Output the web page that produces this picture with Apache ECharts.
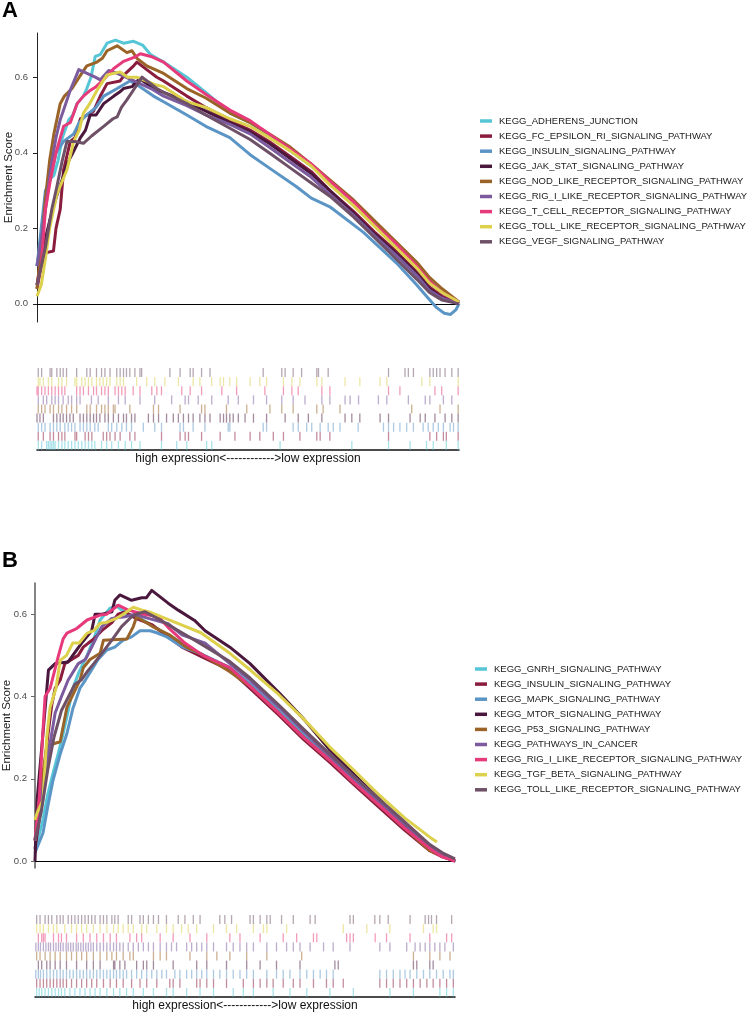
<!DOCTYPE html>
<html><head><meta charset="utf-8">
<script src="https://cdn.jsdelivr.net/npm/echarts@6/dist/echarts.min.js"></script>
<style>html,body{margin:0;padding:0;background:#fff}#c{width:750px;height:1012px}</style>
</head><body><div id="c"></div>
<script>
// ---------- Panel A ----------
const namesA = ['KEGG_ADHERENS_JUNCTION','KEGG_FC_EPSILON_RI_SIGNALING_PATHWAY','KEGG_INSULIN_SIGNALING_PATHWAY','KEGG_JAK_STAT_SIGNALING_PATHWAY','KEGG_NOD_LIKE_RECEPTOR_SIGNALING_PATHWAY','KEGG_RIG_I_LIKE_RECEPTOR_SIGNALING_PATHWAY','KEGG_T_CELL_RECEPTOR_SIGNALING_PATHWAY','KEGG_TOLL_LIKE_RECEPTOR_SIGNALING_PATHWAY','KEGG_VEGF_SIGNALING_PATHWAY'];
const colorsA = ['#56c6d6','#8a1c3d','#5b95c6','#4a173d','#9a6327','#7b5b9e','#e63a7a','#dcd04c','#6e5167'];

const esA_ADHERENS = [[0,0.1],[1,0.17],[1.8,0.25],[2.5,0.3],[3,0.33],[4,0.34],[5,0.38],[6,0.44],[7.5,0.487],[8.5,0.5],[9.5,0.53],[11,0.55],[11.8,0.57],[12.8,0.6],[13.8,0.655],[15,0.66],[16.6,0.69],[18.6,0.698],[20.5,0.69],[22.9,0.695],[25,0.685],[26.9,0.66],[30,0.64],[35.5,0.6],[40,0.56],[45.7,0.505],[50.5,0.48],[55,0.445],[60,0.405],[65,0.365],[69.4,0.32],[75,0.265],[80,0.21],[85,0.155],[90,0.1],[93,0.06],[96,0.03],[100,0.005]];
const esA_FC = [[0,0.04],[1,0.1],[2,0.135],[3.9,0.14],[4.5,0.2],[5.5,0.25],[6.3,0.355],[7.9,0.43],[9,0.44],[10.3,0.49],[13.4,0.51],[15,0.55],[16.6,0.583],[19.7,0.59],[21,0.61],[22.9,0.63],[23.7,0.64],[26,0.62],[28.4,0.6],[30,0.59],[35.5,0.55],[40,0.52],[45.7,0.485],[50.5,0.46],[55,0.43],[60,0.39],[65,0.35],[69.4,0.3],[75,0.245],[80,0.19],[85,0.14],[90,0.085],[93,0.045],[96,0.02],[100,0]];
const esA_INSULIN = [[0,0.1],[1,0.2],[2,0.3],[3.2,0.33],[4.5,0.4],[6.3,0.43],[8.7,0.45],[10,0.48],[11.8,0.5],[14,0.52],[15.8,0.55],[19,0.57],[22,0.59],[23.7,0.58],[27.6,0.55],[30,0.535],[35.5,0.5],[40,0.47],[45.7,0.44],[50.5,0.395],[55,0.36],[61.5,0.31],[65,0.28],[69.4,0.257],[77.3,0.19],[85.2,0.108],[90,0.05],[92.3,0.02],[94.7,-0.01],[96.5,-0.025],[98,-0.028],[99.3,-0.015],[100,0]];
const esA_JAK = [[0,0.05],[1.5,0.15],[3,0.22],[4.5,0.28],[6,0.33],[7.1,0.37],[8.5,0.4],[10.3,0.44],[11.5,0.46],[12.6,0.5],[14,0.5],[15.8,0.53],[18.2,0.55],[19.5,0.56],[20.5,0.57],[22.5,0.575],[23.7,0.59],[24.5,0.595],[27.6,0.57],[30,0.56],[35.5,0.535],[40,0.51],[45.7,0.48],[50.5,0.455],[55,0.425],[60,0.385],[65,0.345],[69.4,0.3],[75,0.24],[80,0.185],[85,0.135],[90,0.08],[93,0.04],[96,0.015],[100,0]];
const esA_NOD = [[0,0.04],[1,0.15],[2,0.28],[3,0.38],[4,0.45],[5.5,0.53],[6.5,0.55],[8.3,0.57],[10,0.6],[11.8,0.63],[14.2,0.64],[15.5,0.65],[16.6,0.67],[19,0.683],[21.3,0.665],[22.5,0.67],[23.7,0.65],[26,0.63],[30,0.61],[35.5,0.57],[40,0.545],[45.7,0.505],[50.5,0.48],[55,0.45],[60,0.415],[65,0.37],[69.4,0.328],[75,0.275],[80,0.22],[85,0.165],[90,0.11],[93,0.07],[96,0.04],[100,0.005]];
const esA_RIG = [[0,0.1],[1,0.17],[2,0.25],[3.2,0.355],[4.5,0.44],[5.5,0.487],[6.5,0.52],[7.9,0.566],[9.9,0.62],[13.8,0.6],[15,0.593],[17,0.618],[19,0.61],[23,0.59],[27,0.57],[30,0.55],[35.5,0.525],[40,0.5],[45.7,0.475],[50.5,0.45],[55,0.415],[60,0.375],[65,0.335],[69.4,0.29],[75,0.235],[80,0.18],[85,0.13],[90,0.075],[93,0.035],[96,0.015],[100,0]];
const esA_TCELL = [[0,0.05],[1,0.1],[2,0.25],[3.2,0.33],[4.5,0.4],[6.3,0.47],[7.9,0.48],[9.5,0.53],[11,0.55],[12.6,0.565],[14,0.575],[15.8,0.594],[18.2,0.623],[20.5,0.642],[23.3,0.654],[24.5,0.662],[27,0.655],[30,0.64],[35.5,0.59],[40,0.555],[45.7,0.513],[50.5,0.485],[55,0.45],[60,0.41],[65,0.37],[69.4,0.325],[75,0.27],[80,0.21],[85,0.16],[90,0.1],[93,0.06],[96,0.03],[100,0.005]];
const esA_TOLL = [[0,0.02],[1,0.05],[2,0.12],[3,0.2],[4.7,0.29],[7.1,0.355],[8.7,0.43],[10,0.46],[11,0.505],[12.5,0.53],[14.2,0.565],[16.6,0.606],[19.7,0.614],[21.5,0.6],[23.7,0.6],[28,0.58],[30,0.575],[35.5,0.535],[40,0.52],[45.7,0.49],[50.5,0.47],[55,0.44],[60,0.405],[65,0.365],[69.4,0.315],[75,0.26],[80,0.205],[85,0.15],[90,0.095],[93,0.055],[96,0.03],[100,0.005]];
const esA_VEGF = [[0,0.05],[1,0.1],[2,0.15],[3.5,0.25],[4.7,0.31],[6,0.38],[7.1,0.43],[9,0.43],[11,0.425],[13,0.445],[15.8,0.47],[18,0.49],[19,0.495],[20,0.52],[21.3,0.54],[23.7,0.58],[24.9,0.6],[28.4,0.57],[30,0.56],[35.5,0.53],[40,0.5],[45.7,0.465],[50.5,0.435],[55,0.4],[60,0.36],[65,0.32],[69.4,0.285],[75,0.23],[80,0.175],[85,0.12],[90,0.065],[93,0.03],[96,0.01],[100,0]];

const hitsA_ADHERENS = [0.3,1.1,2.3,2.7,3.1,3.5,3.9,4.3,5.1,5.9,6.6,7.4,8.2,9.0,9.8,10.6,11.4,12.2,13.0,13.7,15.3,16.5,17.7,19.3,20.9,22.4,24.4,29.5,33.1,35.5,40.2,41.4,57.6,74.6,83.3,88.4,92.3,93.9,97.0,99.8];
const hitsA_FC = [0.3,1.5,3.1,3.9,5.1,5.9,6.6,9.0,9.4,11.4,12.2,13.0,15.7,16.5,17.3,18.5,19.7,22.0,23.2,29.5,33.9,35.1,35.9,39.0,43.4,46.9,50.5,52.8,56.0,58.4,62.3,66.3,67.1,69.4,83.3,93.1,94.7,96.3,97.0,99.8];
const hitsA_INSULIN = [0.3,1.1,1.9,3.1,3.9,4.7,5.5,6.6,7.4,8.2,9.0,10.2,11.0,11.8,12.6,13.7,14.5,16.9,17.7,18.9,20.1,21.2,22.4,25.2,27.9,29.5,33.9,34.7,37.0,39.8,45.3,45.7,53.6,54.4,60.7,61.9,63.9,65.1,67.1,69.0,70.2,71.8,76.1,82.1,83.3,84.5,86.0,87.6,89.2,91.5,92.7,93.9,95.1,96.3,97.9,98.7,99.8];
const hitsA_JAK = [0,0.7,1.5,3.9,4.7,5.5,6.2,7.0,7.8,8.6,10.2,11.0,11.8,12.6,13.4,14.1,14.9,16.1,16.9,18.1,19.3,20.5,21.2,22.4,23.2,26.4,27.6,28.8,30.7,32.3,33.5,34.7,35.9,37.0,38.6,39.8,41.0,43.4,44.2,44.9,45.7,46.5,47.7,49.3,51.3,54.4,58.8,61.9,64.3,67.5,73.0,74.6,76.5,81.3,83.3,88.4,90.8,92.0,94.3,96.7,98.3,99.8];
const hitsA_NOD = [0.3,1.1,1.9,3.1,3.9,5.1,5.9,7.0,8.2,9.4,11.8,12.6,14.1,15.3,16.1,16.9,18.1,18.5,22.0,27.6,28.8,33.9,39.0,39.8,44.9,49.7,55.2,58.0,60.7,66.3,67.8,71.8,88.8,95.5,99.8];
const hitsA_RIG = [0.3,1.5,2.3,3.5,4.3,5.1,6.2,7.4,8.2,9.4,10.2,12.9,14.5,16.9,19.3,20.9,24.4,27.9,31.9,35.1,35.9,38.2,41.4,45.3,47.7,51.3,54.4,58.0,60.7,63.5,67.5,69.4,73.0,74.2,76.2,80.9,82.9,88.0,92.0,93.1,96.3,98.3];
const hitsA_TCELL = [0,0.3,1.1,1.9,2.7,3.5,4.3,5.1,5.9,6.6,9.4,10.2,11.0,12.2,13.4,14.1,15.3,16.1,16.9,18.5,19.3,20.1,20.9,22.8,24.4,27.2,28.4,29.5,34.3,36.3,39.0,43.8,47.3,54.0,58.4,60.4,61.9,67.5,69.4,83.3,86.0,94.3,95.9,99.8];
const hitsA_TOLL = [0.3,0.7,1.5,2.7,3.5,5.1,5.9,7.0,9.0,9.4,10.6,11.4,12.2,13.0,14.1,14.9,15.7,16.5,17.3,18.9,19.7,20.5,23.6,26.0,27.9,30.3,33.5,37.0,38.6,41.4,43.4,44.2,45.7,47.3,50.5,52.8,54.4,58.4,60.4,62.3,66.3,67.5,73.0,76.5,81.3,82.9,91.2,93.1,99.8];
const hitsA_VEGF = [0.3,1.1,3.1,3.5,4.7,5.5,6.2,7.0,9.4,11.8,12.6,14.1,15.3,16.1,17.3,18.9,19.7,20.5,21.2,22.0,23.2,24.4,24.8,31.5,33.9,36.3,37.0,39.0,41.0,53.6,58.0,58.8,60.7,62.7,66.3,66.7,69.0,83.3,87.2,88.0,89.2,93.1,93.9,94.7,95.5,96.7,98.3,99.8];

// ---------- Panel B ----------
const namesB = ['KEGG_GNRH_SIGNALING_PATHWAY','KEGG_INSULIN_SIGNALING_PATHWAY','KEGG_MAPK_SIGNALING_PATHWAY','KEGG_MTOR_SIGNALING_PATHWAY','KEGG_P53_SIGNALING_PATHWAY','KEGG_PATHWAYS_IN_CANCER','KEGG_RIG_I_LIKE_RECEPTOR_SIGNALING_PATHWAY','KEGG_TGF_BETA_SIGNALING_PATHWAY','KEGG_TOLL_LIKE_RECEPTOR_SIGNALING_PATHWAY'];
const colorsB = ['#56c6d6','#8a1c3d','#5b95c6','#4a173d','#9a6327','#7b5b9e','#e63a7a','#dcd04c','#6e5167'];

const esB_GNRH = [[0,0.027],[1.9,0.1],[3,0.16],[4.3,0.214],[5.5,0.26],[6.7,0.31],[8,0.37],[9,0.42],[10.5,0.46],[12.4,0.5],[14,0.54],[15.5,0.586],[17.9,0.615],[19.4,0.62],[22,0.6],[25,0.59],[30,0.56],[35,0.53],[40,0.5],[46.4,0.47],[51.2,0.43],[58,0.365],[64,0.305],[70.2,0.25],[76,0.195],[82,0.14],[88,0.085],[94,0.03],[100,0]];
const esB_INSULIN = [[0,0.03],[1,0.1],[2,0.2],[3,0.3],[4,0.38],[4.8,0.42],[6,0.44],[7.1,0.48],[10.3,0.5],[11.5,0.52],[12.7,0.53],[14,0.54],[15.9,0.56],[18.3,0.58],[19.8,0.6],[21.4,0.606],[24,0.59],[27.8,0.575],[31,0.55],[35,0.52],[40,0.495],[46.4,0.464],[51.2,0.42],[58,0.355],[64,0.295],[70.2,0.24],[76,0.185],[82,0.13],[88,0.075],[94,0.025],[97,0.01],[100,0]];
const esB_MAPK = [[0,0.02],[1.9,0.068],[3,0.13],[4.3,0.197],[6,0.26],[7.6,0.31],[9,0.37],[10.7,0.42],[12,0.44],[13.8,0.47],[15,0.49],[17.1,0.513],[19,0.52],[21,0.537],[23,0.545],[25,0.56],[27.4,0.56],[29,0.555],[31.4,0.545],[35.2,0.52],[39.3,0.505],[46.4,0.47],[51.2,0.43],[58,0.365],[64,0.305],[70.2,0.25],[76,0.195],[82,0.14],[88,0.085],[94,0.03],[100,0]];
const esB_MTOR = [[0,0.0],[0.5,0.148],[1.9,0.31],[3.2,0.464],[4.8,0.48],[7.9,0.484],[9,0.5],[11.1,0.53],[13.5,0.56],[14.3,0.6],[16,0.6],[18.3,0.606],[19,0.634],[20.2,0.647],[23,0.634],[25.4,0.64],[26.5,0.64],[27.8,0.658],[31.7,0.627],[34.1,0.61],[38,0.585],[40.5,0.56],[46.4,0.52],[51.2,0.48],[58,0.41],[64,0.345],[70.2,0.27],[76,0.21],[82,0.15],[88,0.09],[94,0.03],[97,0.015],[100,0]];
const esB_P53 = [[0,0.05],[1,0.15],[2.8,0.28],[6,0.29],[7.6,0.374],[10.7,0.44],[11.5,0.47],[13.1,0.49],[15.5,0.505],[16.3,0.537],[21.9,0.54],[23.4,0.57],[24.2,0.594],[28,0.57],[32,0.55],[36,0.52],[39.3,0.505],[46.4,0.46],[51.2,0.425],[58,0.36],[64,0.3],[70.2,0.245],[76,0.19],[82,0.135],[88,0.08],[94,0.025],[100,0]];
const esB_PATHWAYS = [[0,0.05],[1.5,0.15],[3,0.25],[4.8,0.36],[6.3,0.4],[7.9,0.44],[10.3,0.48],[12,0.49],[13.5,0.52],[15.9,0.57],[18.3,0.59],[21.4,0.594],[23.8,0.6],[27,0.59],[31.7,0.577],[35,0.55],[40.5,0.53],[46.4,0.48],[51.2,0.44],[58,0.375],[64,0.315],[70.2,0.255],[76,0.2],[82,0.145],[88,0.09],[94,0.035],[97,0.015],[100,0]];
const esB_RIG = [[0,0.05],[1,0.15],[1.8,0.3],[2.4,0.4],[3.6,0.42],[5.6,0.5],[6.7,0.54],[7.6,0.554],[9.5,0.563],[10,0.566],[12.4,0.586],[15.5,0.598],[17,0.6],[19.8,0.622],[22.2,0.61],[26,0.6],[29.4,0.594],[32,0.565],[35.7,0.53],[40,0.5],[46.4,0.47],[51.2,0.425],[58,0.36],[64,0.3],[70.2,0.245],[76,0.19],[82,0.135],[88,0.08],[94,0.03],[97,0.01],[100,0]];
const esB_TGF = [[0,0.1],[0.5,0.117],[1.9,0.148],[2.8,0.3],[3.6,0.374],[5,0.42],[6,0.488],[7.5,0.5],[9,0.53],[10.5,0.53],[12.4,0.554],[14,0.56],[15.5,0.578],[17,0.58],[19.4,0.59],[21,0.6],[23.4,0.617],[25.5,0.61],[27.4,0.605],[30,0.594],[34,0.578],[39.5,0.555],[46.4,0.505],[51.2,0.465],[58,0.405],[64,0.345],[70.2,0.277],[76,0.22],[82,0.16],[88,0.105],[94,0.058],[95.7,0.046]];
const esB_TOLL = [[0,0.05],[1.5,0.12],[3,0.22],[4.5,0.3],[6.3,0.366],[8,0.4],[9.5,0.43],[11,0.44],[12.7,0.464],[14,0.48],[15.9,0.505],[18.3,0.537],[20.6,0.57],[23,0.594],[24.6,0.602],[26.2,0.606],[30,0.585],[35,0.555],[40,0.525],[46.4,0.485],[51.2,0.445],[58,0.38],[64,0.32],[70.2,0.26],[76,0.205],[82,0.15],[88,0.095],[94,0.04],[97,0.02],[100,0.005]];

const hitsB_GNRH = [0.4,1.0,1.6,2.4,3.2,4.0,4.8,5.6,6.3,7.1,8.3,9.5,10.7,11.9,13.1,14.3,15.5,17.1,18.7,20.2,21.8,23.4,25.8,28.2,31.3,32.9,36.1,39.3,42.5,47.2,49.6,52.0,56.7,60.7,64.7,70.2,75.8,84.5,90.1,96.4,98.0,99.6];
const hitsB_INSULIN = [0.4,1.2,2.0,2.8,3.6,4.4,5.2,6.0,6.7,7.5,8.7,9.9,11.1,12.3,13.5,14.7,16.3,17.9,19.4,21.0,23.0,25.0,26.6,29.0,32.1,32.9,34.5,38.5,39.3,40.9,42.5,45.6,49.6,52.0,53.6,55.2,56.7,59.1,61.5,63.1,66.3,69.4,71.0,73.4,82.1,83.7,85.3,86.9,88.5,90.1,91.7,93.3,94.8,96.4,98.0,99.6];
const hitsB_MAPK = [0.2,0.8,1.3,2.0,2.8,3.6,4.4,5.2,6.0,6.7,7.5,8.3,9.1,9.9,10.7,11.5,12.3,13.1,13.9,14.7,15.5,16.3,17.1,17.9,18.7,19.4,20.2,21.0,21.8,23.0,24.2,25.4,26.6,27.8,29.0,30.2,31.3,33.3,34.5,36.1,37.3,38.5,39.7,40.9,42.5,44.0,45.6,47.2,48.8,50.4,52.0,55.2,57.5,59.1,60.7,63.1,64.7,66.3,67.9,69.4,71.0,82.1,83.7,85.3,86.9,88.1,89.3,90.9,92.5,94.0,95.6,97.2,98.8,99.6];
const hitsB_MTOR = [0.8,1.6,2.8,3.6,4.8,6.0,7.5,9.9,12.3,13.9,15.5,18.7,19.0,20.2,21.4,24.2,25.8,26.6,28.2,32.9,38.5,40.9,45.6,50.4,53.6,57.5,63.1,71.4,72.2,90.1,90.9,94.0,94.8];
const hitsB_P53 = [0.4,1.2,2.4,3.6,4.8,6.0,7.5,8.7,9.9,11.1,12.3,13.9,15.5,17.1,18.3,19.4,21.0,22.6,23.4,28.2,29.8,31.3,36.9,40.9,43.3,46.4,50.4,55.2,63.5,90.1,94.0,96.4,98.8];
const hitsB_PATHWAYS = [0.2,0.8,1.3,2.0,2.6,3.2,3.7,4.4,5.0,5.6,6.1,6.7,7.4,7.9,8.5,9.1,9.8,10.3,10.9,11.5,12.1,12.7,13.3,13.9,14.7,15.5,16.3,17.1,17.9,18.7,19.4,20.2,21.0,22.2,23.4,24.6,25.8,27.0,28.2,29.8,31.3,32.5,33.7,36.1,37.3,38.5,39.7,40.9,42.5,45.6,47.2,48.8,50.4,52.0,55.2,57.5,59.9,61.5,63.1,65.5,68.7,71.0,75.0,82.1,84.5,88.5,90.5,91.7,92.9,94.0,95.2,96.4,97.6,99.6];
const hitsB_RIG = [0.8,1.6,2.0,2.4,4.4,5.6,6.3,7.5,9.9,11.5,13.1,14.7,16.3,17.9,19.4,22.6,24.2,25.4,29.8,32.9,36.9,40.9,46.4,48.8,53.6,59.1,62.3,66.3,67.1,74.2,75.0,75.8,81.0,83.7,89.3,94.0,98.0,99.2];
const hitsB_TGF = [0.4,1.2,2.0,3.2,4.4,5.2,7.1,8.7,9.9,11.1,12.3,13.9,15.5,17.1,18.7,19.8,21.0,22.2,23.4,25.4,26.6,29.0,31.3,32.9,34.9,36.5,38.5,42.5,45.6,48.0,52.0,54.4,55.2,59.9,73.4,79.0,84.5,92.5,94.8,95.6];
const hitsB_TOLL = [0.4,1.2,2.4,3.2,4.0,5.2,6.0,6.7,7.9,8.7,9.5,10.3,11.1,11.9,12.7,13.5,14.3,15.5,16.3,17.1,18.3,19.0,19.8,22.2,23.0,25.0,25.8,27.0,28.2,29.4,31.3,34.1,35.7,37.7,39.3,44.0,45.2,46.8,51.2,52.0,53.6,55.2,56.0,58.7,61.5,65.5,66.7,75.0,75.8,80.9,82.1,84.1,89.3,92.9,93.7,94.4,95.6,99.2];

const yTicks = [0, 0.2, 0.4, 0.6];
const rugLabel = 'high expression<------------>low expression';

// ---------- build ----------
const esA = [esA_ADHERENS, esA_FC, esA_INSULIN, esA_JAK, esA_NOD, esA_RIG, esA_TCELL, esA_TOLL, esA_VEGF];
const hitsA = [hitsA_ADHERENS, hitsA_FC, hitsA_INSULIN, hitsA_JAK, hitsA_NOD, hitsA_RIG, hitsA_TCELL, hitsA_TOLL, hitsA_VEGF];
const esB = [esB_GNRH, esB_INSULIN, esB_MAPK, esB_MTOR, esB_P53, esB_PATHWAYS, esB_RIG, esB_TGF, esB_TOLL];
const hitsB = [hitsB_GNRH, hitsB_INSULIN, hitsB_MAPK, hitsB_MTOR, hitsB_P53, hitsB_PATHWAYS, hitsB_RIG, hitsB_TGF, hitsB_TOLL];

const FONT = "'Liberation Sans', Arial, sans-serif";
const series = [];
function addPanel(names, colors, es, hits, mainIdx, rugIdx) {
  names.forEach((n, i) => {
    series.push({
      type: 'line', name: n, xAxisIndex: mainIdx, yAxisIndex: mainIdx,
      data: es[i], showSymbol: false, symbol: 'none', silent: true,
      lineStyle: { color: colors[i], width: 3, join: 'round' }, itemStyle: { color: colors[i] }, z: 3
    });
  });
  names.forEach((n, i) => {
    series.push({
      type: 'scatter', name: 'rug' + rugIdx + '_' + i, xAxisIndex: rugIdx, yAxisIndex: rugIdx,
      data: hits[i].map(v => [v, i + 0.5]), symbol: 'rect', symbolSize: [1.3, 9], silent: true,
      itemStyle: { color: colors[i], opacity: 0.5 }
    });
  });
}
addPanel(namesA, colorsA, esA, hitsA, 0, 1);
addPanel(namesB, colorsB, esB, hitsB, 2, 3);

function mainX(idx) {
  return { gridIndex: idx, type: 'value', min: 0, max: 100,
    axisLine: { show: true, onZero: true, lineStyle: { color: '#000', width: 1 } },
    axisTick: { show: false }, axisLabel: { show: false }, splitLine: { show: false } };
}
function mainY(idx, min, max, lineColor, lineWidth, margin) {
  return { gridIndex: idx, type: 'value', min: min, max: max,
    name: 'Enrichment Score', nameLocation: 'middle', nameGap: 22, nameMoveOverlap: false,
    nameTextStyle: { fontFamily: FONT, fontSize: 11.5, color: '#222' },
    axisLine: { show: true, onZero: false, lineStyle: { color: lineColor, width: lineWidth } },
    axisTick: { show: true, length: 4, customValues: yTicks, lineStyle: { color: lineColor } },
    axisLabel: { show: true, customValues: yTicks, margin: margin, fontFamily: FONT, fontSize: 9.5, color: '#4d4d4d',
      formatter: v => v.toFixed(1) },
    splitLine: { show: false } };
}
function rugX(idx) {
  return { gridIndex: idx, type: 'value', min: 0, max: 100, position: 'bottom',
    name: rugLabel, nameLocation: 'middle', nameGap: 3, nameMoveOverlap: false,
    nameTextStyle: { fontFamily: FONT, fontSize: 12, color: '#111', verticalAlign: 'top' },
    axisLine: { show: true, onZero: false, lineStyle: { color: '#111', width: 1.5 } },
    axisTick: { show: false }, axisLabel: { show: false }, splitLine: { show: false } };
}
function rugY(idx) {
  return { gridIndex: idx, type: 'value', min: 0, max: 9, show: false };
}
function legendFor(names, colors, left, top) {
  return { orient: 'vertical', left: left, top: top, icon: 'rect', itemWidth: 12, itemHeight: 3.5,
    itemGap: 3.1, padding: 0, selectedMode: false,
    data: names.map((n, i) => ({ name: n, itemStyle: { color: colors[i] } })),
    textStyle: { fontFamily: FONT, fontSize: 9.5, color: '#1a1a1a', lineHeight: 12, padding: [0, 0, 0, 2] } };
}

const option = {
  animation: false,
  backgroundColor: '#fff',
  title: [
    { text: 'A', left: 2, top: 0, padding: 0, textStyle: { fontFamily: FONT, fontSize: 22, fontWeight: 'bold', color: '#000' } },
    { text: 'B', left: 2, top: 550, padding: 0, textStyle: { fontFamily: FONT, fontSize: 22, fontWeight: 'bold', color: '#000' } }
  ],
  legend: [ legendFor(namesA, colorsA, 480, 115), legendFor(namesB, colorsB, 475, 663) ],
  grid: [
    { left: 37, top: 33, width: 422, height: 289, outerBoundsMode: 'none', containLabel: false },
    { left: 37, top: 368, width: 422, height: 82, outerBoundsMode: 'none', containLabel: false },
    { left: 35, top: 583, width: 420, height: 285, outerBoundsMode: 'none', containLabel: false },
    { left: 35, top: 915, width: 420, height: 82, outerBoundsMode: 'none', containLabel: false }
  ],
  xAxis: [ mainX(0), rugX(1), mainX(2), rugX(3) ],
  yAxis: [ mainY(0, -0.048, 0.717, '#222', 1, 9), rugY(1), mainY(2, -0.017, 0.676, '#666', 1.6, 8), rugY(3) ],
  series: series
};
const chart = echarts.init(document.getElementById('c'), null, { renderer: 'canvas' });
chart.setOption(option);
</script></body></html>
